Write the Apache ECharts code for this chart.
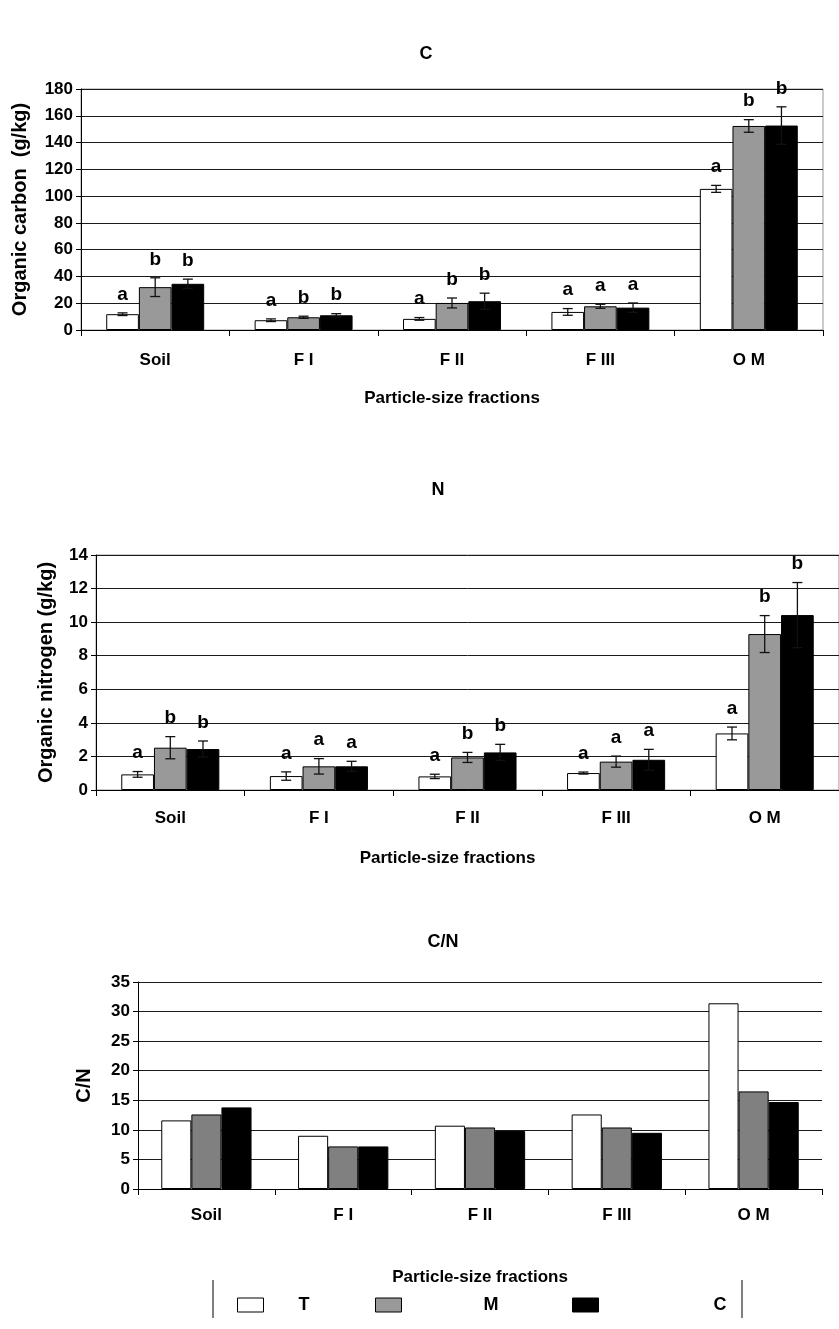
<!DOCTYPE html>
<html>
<head>
<meta charset="utf-8">
<script src="https://cdn.jsdelivr.net/npm/echarts@6/dist/echarts.min.js"></script>
<style>
  html, body { margin: 0; padding: 0; background: #fff; }
  #chart { width: 839px; height: 1329px; }
</style>
</head>
<body>
<div id="chart"></div>
<script>
// categories and tick ranges
const categories = ['Soil', 'F I', 'F II', 'F III', 'O M'];
const carbonTicks = { min: 0, max: 180, interval: 20 };
const nitrogenTicks = { min: 0, max: 14, interval: 2 };
const ratioTicks = { min: 0, max: 35, interval: 5 };

// organic carbon (g/kg)
const carbonT = [11.8, 7.3, 8.3, 13.5, 105.4];
const carbonM = [32.0, 9.5, 20.2, 17.7, 152.4];
const carbonC = [34.5, 11.0, 21.5, 16.7, 152.7];
const carbonErrT = [1.0, 1.0, 1.0, 2.5, 2.6];
const carbonErrM = [7.0, 0.8, 3.7, 1.5, 4.7];
const carbonErrC = [3.5, 1.2, 6.0, 3.5, 14.0];
const carbonLetT = ['a', 'a', 'a', 'a', 'a'];
const carbonLetM = ['b', 'b', 'b', 'a', 'b'];
const carbonLetC = ['b', 'b', 'b', 'a', 'b'];

// organic nitrogen (g/kg)
const nitrogenT = [0.93, 0.83, 0.81, 1.01, 3.37];
const nitrogenM = [2.52, 1.41, 1.94, 1.69, 9.29];
const nitrogenC = [2.44, 1.41, 2.24, 1.80, 10.42];
const nitrogenErrT = [0.17, 0.25, 0.13, 0.06, 0.38];
const nitrogenErrM = [0.66, 0.46, 0.30, 0.33, 1.10];
const nitrogenErrC = [0.48, 0.30, 0.48, 0.62, 1.94];
const nitrogenLetT = ['a', 'a', 'a', 'a', 'a'];
const nitrogenLetM = ['b', 'a', 'b', 'a', 'b'];
const nitrogenLetC = ['b', 'a', 'b', 'a', 'b'];

// C/N ratio
const ratioT = [11.6, 9.0, 10.7, 12.6, 31.4];
const ratioM = [12.6, 7.2, 10.4, 10.4, 16.5];
const ratioC = [13.8, 7.2, 9.8, 9.5, 14.7];

const FONT = 'Liberation Sans, Arial, sans-serif';
const GAP = 0.34;
const fillT = '#ffffff';
const fillM = '#999999';
const fillMdark = '#808080';
const fillC = '#000000';

const chart = echarts.init(document.getElementById('chart'));

// error bar + significance letter, shifted onto bar idx (0,1,2) of the group
const errorRenderer = (idx, letters) => (params, api) => {
  const cat = api.value(0);
  const v = api.value(1);
  const e = api.value(2);
  const band = api.size([1, 0])[0];
  const bw = band * (1 - GAP) / 3;
  const x = api.coord([cat, v])[0] + (idx - 1) * bw;
  const yTop = api.coord([cat, v + e])[1];
  const yBot = api.coord([cat, v - e])[1];
  const st = { stroke: '#111', lineWidth: 1.3 };
  return {
    type: 'group',
    children: [
      { type: 'line', shape: { x1: x, y1: yTop, x2: x, y2: yBot }, style: st },
      { type: 'line', shape: { x1: x - 5, y1: yTop, x2: x + 5, y2: yTop }, style: st },
      { type: 'line', shape: { x1: x - 5, y1: yBot, x2: x + 5, y2: yBot }, style: st },
      {
        type: 'text',
        x: x, y: yTop - 9,
        style: {
          text: letters[params.dataIndex], fill: '#000',
          font: 'bold 19px ' + FONT, align: 'center', verticalAlign: 'bottom'
        }
      }
    ]
  };
};

const errData = (vals, errs) => vals.map((v, i) => [i, v, errs[i]]);

const bar = (name, gi, data, color) => ({
  name: name, type: 'bar', xAxisIndex: gi, yAxisIndex: gi, data: data,
  barGap: '0%', barCategoryGap: (GAP * 100) + '%',
  itemStyle: { color: color, borderColor: '#000', borderWidth: 1 },
  silent: true, animation: false
});

const errSeries = (gi, idx, vals, errs, letters) => ({
  type: 'custom', xAxisIndex: gi, yAxisIndex: gi,
  data: errData(vals, errs), renderItem: errorRenderer(idx, letters),
  silent: true, animation: false, z: 5
});

const xAxis = (gi, labelMargin, nameGap, namePad) => ({
  type: 'category', gridIndex: gi, data: categories,
  name: 'Particle-size fractions', nameLocation: 'middle', nameGap: nameGap,
  nameTextStyle: { fontFamily: FONT, fontWeight: 'bold', fontSize: 17, color: '#000', padding: namePad },
  axisLine: { lineStyle: { color: '#000', width: 1 } },
  axisTick: { show: true, alignWithLabel: false, length: 6, lineStyle: { color: '#000' } },
  axisLabel: { fontFamily: FONT, fontWeight: 'bold', fontSize: 17, color: '#000', margin: labelMargin, interval: 0 },
  splitLine: { show: false }
});

const yAxis = (gi, ticks, name, nameGap) => ({
  type: 'value', gridIndex: gi, min: ticks.min, max: ticks.max, interval: ticks.interval,
  name: name, nameLocation: 'middle', nameGap: nameGap, nameRotate: 90,
  nameTextStyle: { fontFamily: FONT, fontWeight: 'bold', fontSize: 20, color: '#000' },
  axisLine: { show: true, lineStyle: { color: '#000', width: 1 } },
  axisTick: { show: true, inside: false, length: 5, lineStyle: { color: '#000' } },
  axisLabel: { fontFamily: FONT, fontWeight: 'bold', fontSize: 17, color: '#000', margin: 8 },
  splitLine: { show: true, lineStyle: { color: '#1a1a1a', width: 1 } }
});

const legendItem = (name, left, pad, color) => ({
  show: true, left: left, top: 1291, orient: 'horizontal',
  itemWidth: 26, itemHeight: 14, icon: 'rect',
  data: [{ name: name, itemStyle: { color: color, borderColor: '#000', borderWidth: 1 } }],
  textStyle: { fontFamily: FONT, fontWeight: 'bold', fontSize: 18, color: '#000', padding: [0, 0, 0, pad] },
  selectedMode: false
});

chart.setOption({
  backgroundColor: '#fff',
  animation: false,
  title: [
    { text: 'C', left: 421, top: 40, textAlign: 'center', textStyle: { fontFamily: FONT, fontWeight: 'bold', fontSize: 18, color: '#000' } },
    { text: 'N', left: 433, top: 476, textAlign: 'center', textStyle: { fontFamily: FONT, fontWeight: 'bold', fontSize: 18, color: '#000' } },
    { text: 'C/N', left: 438, top: 928, textAlign: 'center', textStyle: { fontFamily: FONT, fontWeight: 'bold', fontSize: 18, color: '#000' } }
  ],
  grid: [
    { left: 81, right: 16, top: 89, height: 241, show: true, borderColor: '#999', borderWidth: 1, backgroundColor: 'transparent', containLabel: false },
    { left: 96, right: -7, top: 555, height: 235, show: true, borderColor: '#999', borderWidth: 1, backgroundColor: 'transparent', containLabel: false },
    { left: 138, right: 17, top: 982, height: 207, show: false, containLabel: false }
  ],
  xAxis: [
    xAxis(0, 22, 60, [0, 0, 0, 0]),
    xAxis(1, 20, 60, [0, 40, 0, 0]),
    xAxis(2, 18, 80, [0, 0, 0, 0])
  ],
  yAxis: [
    yAxis(0, carbonTicks, 'Organic carbon  (g/kg)', 51),
    yAxis(1, nitrogenTicks, 'Organic nitrogen (g/kg)', 40),
    yAxis(2, ratioTicks, 'C/N', 44)
  ],
  legend: [
    legendItem('T', 232, 30, fillT),
    legendItem('M', 370, 77, fillM),
    legendItem('C', 567, 110, fillC)
  ],
  graphic: [
    { type: 'line', shape: { x1: 213, y1: 1280, x2: 213, y2: 1318 }, style: { stroke: '#000', lineWidth: 1 } },
    { type: 'line', shape: { x1: 742, y1: 1280, x2: 742, y2: 1318 }, style: { stroke: '#000', lineWidth: 1 } }
  ],
  series: [
    bar('T', 0, carbonT, fillT),
    bar('M', 0, carbonM, fillM),
    bar('C', 0, carbonC, fillC),
    errSeries(0, 0, carbonT, carbonErrT, carbonLetT),
    errSeries(0, 1, carbonM, carbonErrM, carbonLetM),
    errSeries(0, 2, carbonC, carbonErrC, carbonLetC),

    bar('T', 1, nitrogenT, fillT),
    bar('M', 1, nitrogenM, fillM),
    bar('C', 1, nitrogenC, fillC),
    errSeries(1, 0, nitrogenT, nitrogenErrT, nitrogenLetT),
    errSeries(1, 1, nitrogenM, nitrogenErrM, nitrogenLetM),
    errSeries(1, 2, nitrogenC, nitrogenErrC, nitrogenLetC),

    bar('T', 2, ratioT, fillT),
    bar('M', 2, ratioM, fillMdark),
    bar('C', 2, ratioC, fillC)
  ]
});
</script>
</body>
</html>
